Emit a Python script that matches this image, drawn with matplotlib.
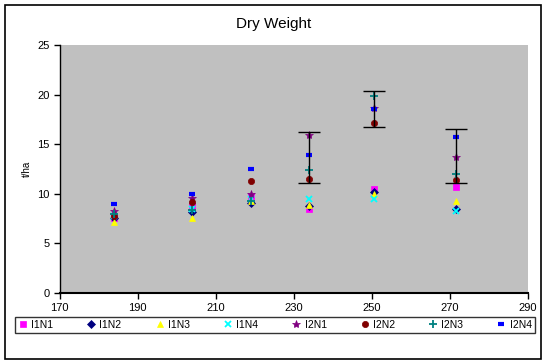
import matplotlib
matplotlib.use("Agg")
import matplotlib.pyplot as plt
from matplotlib.patches import Rectangle

plt.rcParams['font.family'] = ['Liberation Sans', 'DejaVu Sans']

days = [184, 204, 219, 234, 250.5, 271.5]
series_names = ["I1N1", "I1N2", "I1N3", "I1N4", "I2N1", "I2N2", "I2N3", "I2N4"]
I1N1 = [7.6, 8.8, 9.8, 8.5, 10.5, 10.7]
I1N2 = [7.6, 8.2, 9.1, 8.8, 10.2, 8.5]
I1N3 = [7.2, 7.6, 9.3, 8.9, 10.0, 9.3]
I1N4 = [7.8, 8.5, 9.5, 9.5, 9.5, 8.3]
I2N1 = [8.3, 9.6, 10.0, 15.9, 18.6, 13.7]
I2N2 = [7.8, 9.2, 11.3, 11.5, 17.1, 11.4]
I2N3 = [8.0, 8.4, 9.3, 12.4, 19.9, 12.0]
I2N4 = [9.0, 10.0, 12.5, 13.9, 18.5, 15.7]
values = [I1N1, I1N2, I1N3, I1N4, I2N1, I2N2, I2N3, I2N4]

err_x = [234, 250.5, 271.5]
err_center = [13.65, 18.55, 13.8]
err_half = [2.55, 1.85, 2.7]

colors = ["#FF00FF", "#000080", "#FFFF00", "#00FFFF", "#800080", "#800000", "#008080", "#0000FF"]
markers = ["s", "D", "^", "x", "*", "o", "+", "_"]
sizes = [4, 4, 5, 4.5, 6, 4.5, 5.5, 4]
edge_w = [0.5, 0.5, 0.5, 1.3, 0.5, 0.5, 1.3, 3]

fig = plt.figure(figsize=(5.48, 3.63), dpi=100)
fig.patch.set_facecolor("white")
fig.add_artist(Rectangle((0.01, 0.012), 0.978, 0.975, transform=fig.transFigure,
                         fill=False, edgecolor="black", linewidth=1.2))

ax = fig.add_axes([0.109, 0.193, 0.854, 0.683])
ax.set_facecolor("#C0C0C0")

for name, vals, c, m, s, ew in zip(series_names, values, colors, markers, sizes, edge_w):
    ax.plot(days, vals, linestyle="none", marker=m, color=c, markersize=s,
            markeredgewidth=ew, label=name)

ax.errorbar(err_x, err_center, yerr=err_half, fmt="none", ecolor="black",
            elinewidth=1, capsize=8, capthick=1)

ax.set_xlim(170, 290)
ax.set_ylim(0, 25)
ax.set_xticks(range(170, 291, 20))
ax.set_yticks(range(0, 26, 5))
ax.tick_params(direction="out", length=4, labelsize=8, width=1)
for side in ("top", "right"):
    ax.spines[side].set_visible(False)
ax.spines["left"].set_linewidth(1)
ax.spines["bottom"].set_linewidth(1.5)
ax.set_ylabel("t/ha", fontsize=7, labelpad=4)
fig.text(0.5, 0.935, "Dry Weight", ha="center", va="center", fontsize=11)

leg = fig.legend(loc="lower left", bbox_to_anchor=(0.028, 0.083, 0.948, 0.06),
                 mode="expand", ncol=8, fontsize=7.5, frameon=True, fancybox=False,
                 handlelength=0.8, handletextpad=0.4, borderaxespad=0, borderpad=0.3,
                 columnspacing=0.5)
leg.get_frame().set_edgecolor("black")
leg.get_frame().set_linewidth(1)

fig.savefig("out.png", dpi=100)
